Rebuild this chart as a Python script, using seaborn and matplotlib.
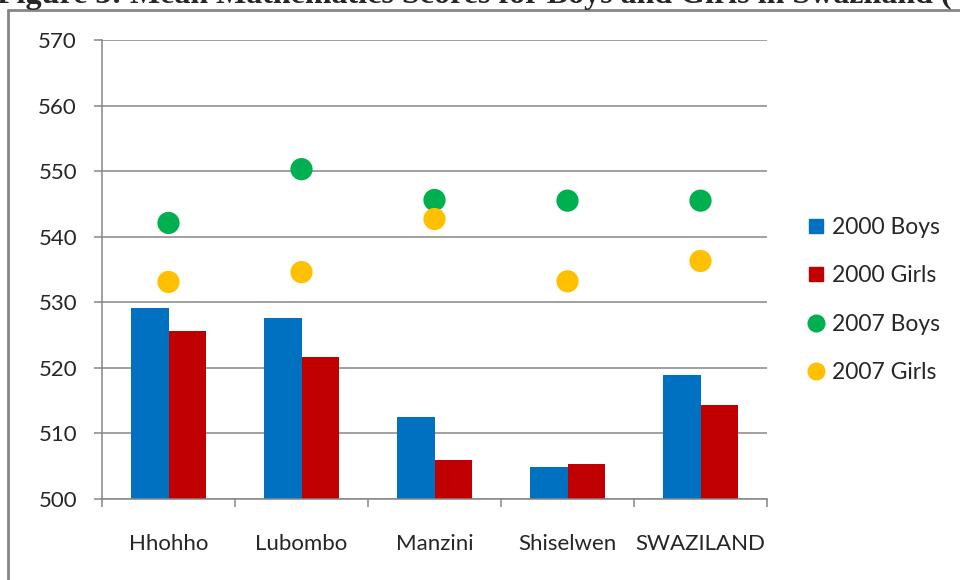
import pandas as pd
import matplotlib.pyplot as plt
import seaborn as sns
from matplotlib.lines import Line2D

regions = ['Hhohho', 'Lubombo', 'Manzini', 'Shiselwen', 'SWAZILAND']
boys_2000 = [529.1, 527.6, 512.5, 504.9, 518.9]
girls_2000 = [525.6, 521.7, 505.9, 505.3, 514.3]
boys_2007 = [542.1, 550.3, 545.6, 545.5, 545.5]
girls_2007 = [533.1, 534.6, 542.7, 533.2, 536.3]
yticks = [500, 510, 520, 530, 540, 550, 560, 570]

bars = pd.DataFrame({
    'Region': regions * 2,
    'Score': boys_2000 + girls_2000,
    'Group': ['2000 Boys'] * 5 + ['2000 Girls'] * 5,
})
dots = pd.DataFrame({
    'Region': regions * 2,
    'Score': boys_2007 + girls_2007,
    'Group': ['2007 Boys'] * 5 + ['2007 Girls'] * 5,
})

colors = {'2000 Boys': '#0070C0', '2000 Girls': '#C00000',
          '2007 Boys': '#00B050', '2007 Girls': '#FFC000'}
grey = '#868686'

sns.set_style('white')
plt.rcParams['font.family'] = ['Lato', 'DejaVu Sans']

fig = plt.figure(figsize=(9.6, 5.8), dpi=100)
ax = fig.add_axes([102 / 960, 1 - 499 / 580, 665 / 960, 459 / 580])

sns.barplot(data=bars, x='Region', y='Score', hue='Group', palette=colors,
            width=0.571, gap=0, saturation=1, linewidth=0, ax=ax, legend=False, zorder=2)
# bars need to start from 500, not 0
for p in ax.patches:
    h = p.get_height()
    p.set_y(500)
    p.set_height(h - 500)

sns.stripplot(data=dots, x='Region', y='Score', hue='Group', palette=colors,
              jitter=False, dodge=False, size=16, linewidth=0, ax=ax,
              legend=False, zorder=3)

ax.set_ylim(500, 570)
ax.set_xlim(-0.5, 4.5)
ax.set_yticks(yticks)
ax.set_yticklabels([str(t) for t in yticks], fontsize=16)
ax.yaxis.grid(True, color=grey, linewidth=1.1, zorder=0)
ax.set_axisbelow(True)
ax.set_xlabel('')
ax.set_ylabel('')

ax.set_xticks([-0.5, 0.5, 1.5, 2.5, 3.5, 4.5])
ax.set_xticklabels([])
ax.set_xticks(range(5), minor=True)
ax.set_xticklabels(regions, minor=True, fontsize=16)
ax.tick_params(axis='x', which='minor', length=0, pad=25)
ax.tick_params(axis='x', which='major', direction='out', length=6, width=1.1, color=grey, bottom=True)
ax.tick_params(axis='y', direction='out', length=6, width=1.1, color=grey, left=True, pad=12)

for s in ['top', 'right']:
    ax.spines[s].set_visible(False)
for s in ['left', 'bottom']:
    ax.spines[s].set_color(grey)
    ax.spines[s].set_linewidth(1.1)

handles = [
    Line2D([], [], marker='s', linestyle='none', markersize=9.5, color=colors['2000 Boys']),
    Line2D([], [], marker='s', linestyle='none', markersize=9.5, color=colors['2000 Girls']),
    Line2D([], [], marker='o', linestyle='none', markersize=12, color=colors['2007 Boys']),
    Line2D([], [], marker='o', linestyle='none', markersize=12, color=colors['2007 Girls']),
]
fig.legend(handles, list(colors.keys()), loc='center left',
           bbox_to_anchor=(785 / 960, 1 - 300 / 580), frameon=False, fontsize=16.5,
           labelspacing=1.18, handletextpad=0.25, handlelength=0.9)

# outer chart frame
fig.add_artist(Line2D([8 / 960, 8 / 960], [0, 1 - 10 / 580], color=grey, linewidth=2))
fig.add_artist(Line2D([8 / 960, 1], [1 - 10 / 580, 1 - 10 / 580], color=grey, linewidth=2))

# cut-off document caption above the chart
fig.text(-3 / 960, 1 - 3 / 580, 'Figure 3: Mean Mathematics Scores for Boys and Girls in Swaziland (',
         fontsize=23, fontweight='bold', family=['Liberation Serif'], va='baseline', ha='left')

fig.savefig('out.png', dpi=100)
